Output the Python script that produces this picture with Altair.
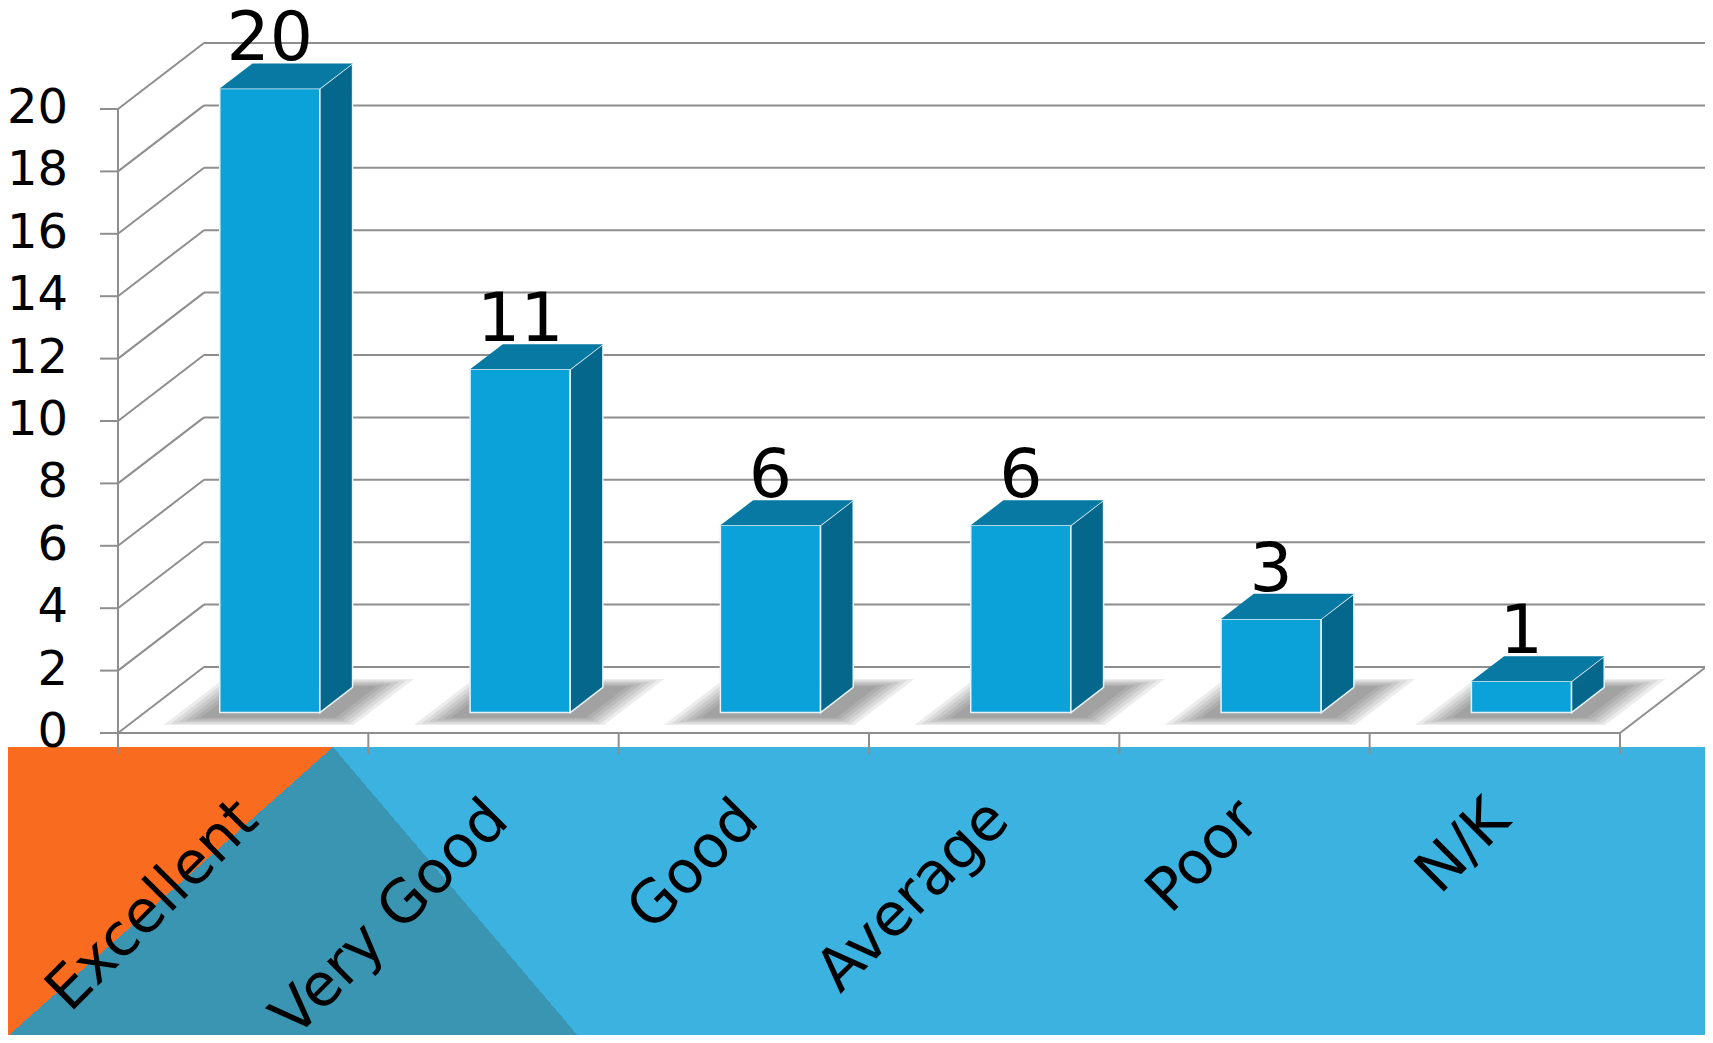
import altair as alt
import pandas as pd

# ---------------- data ----------------
categories = ["Excellent", "Very Good", "Good", "Average", "Poor", "N/K"]
values = [20, 11, 6, 6, 3, 1]
y_ticks = [0, 2, 4, 6, 8, 10, 12, 14, 16, 18, 20]

# ---------------- layout / style constants ----------------
W, H = 1697, 1027
PX_PER_CAT = 250.33
PX_PER_UNIT = 31.2
X_ORIGIN_PX = 110
Y_ORIGIN_PX = 725

xmin = -X_ORIGIN_PX / PX_PER_CAT
ymax = Y_ORIGIN_PX / PX_PER_UNIT
xs = alt.Scale(domain=[xmin, xmin + W / PX_PER_CAT], zero=False, nice=False, padding=0)
ys = alt.Scale(domain=[ymax - H / PX_PER_UNIT, ymax], zero=False, nice=False, padding=0)

DX, DY = 86 / PX_PER_CAT, 66 / PX_PER_UNIT   # depth vector of the 3-D box
D0, D1 = 0.31, 0.69                          # bar depth span
B0, B1 = 0.30, 0.70                          # bar span inside its category
N = len(categories)
TOP = max(y_ticks)
YTICK_LEN = 18 / PX_PER_CAT
XTICK_LEN = 21 / PX_PER_UNIT

FONT = "DejaVu Sans"
GRID = "#8e8e8e"
ORANGE, TEAL, BLUE = "#F96B1E", "#3A95B3", "#3BB2DF"
FRONT, SIDE, TOPC = "#0AA2D8", "#05678C", "#0779A2"

# ---------------- derived tables ----------------
bars = pd.DataFrame({"cat": categories, "value": values, "i": range(N)})
bars["fx0"] = bars.i + B0 + D0 * DX
bars["fx1"] = bars.i + B1 + D0 * DX
bars["fy0"] = D0 * DY
bars["fy1"] = bars.value + D0 * DY
bars["cx"] = bars.i + (B0 + B1) / 2 + D0 * DX
bars["ly"] = bars.value + D1 * DY
bars["lx"] = bars.i + 0.5 + 0.07

side_rows, top_rows = [], []
for c, v, i in zip(categories, values, range(N)):
    for d in (D0, D1):
        side_rows.append({"cat": c, "x": i + B1 + d * DX, "ylo": d * DY, "yhi": v + d * DY})
        top_rows.append({"cat": c, "y": v + d * DY, "xl": i + B0 + d * DX, "xr": i + B1 + d * DX})
side = pd.DataFrame(side_rows)
top = pd.DataFrame(top_rows)

# soft floor shadow: nested footprints, each faint
sh_rows = []
for k in range(6):
    e = 0.022 * k
    a, b, da, db = 0.25 - e, 0.79 + e, 0.23 - e, 0.71 + e
    for c, i in zip(categories, range(N)):
        for d in (da, db):
            sh_rows.append({"g": f"{c}-{k}", "y": d * DY, "xl": i + a + d * DX, "xr": i + b + d * DX})
shadow = pd.DataFrame(sh_rows)

grid = pd.DataFrame({"v": y_ticks})
grid["bx0"] = DX
grid["bx1"] = N + DX
grid["by"] = grid.v + DY
grid["zero"] = 0.0
grid["tk"] = -YTICK_LEN

xt = pd.DataFrame({"x": list(range(N + 1))})
xt["y0"] = 0.0
xt["y1"] = -XTICK_LEN

frame = pd.DataFrame({
    "x": [0, 0, N], "y": [0, 0, 0],
    "x2": [0, N, N + DX], "y2": [TOP, 0, DY],
})

one = pd.DataFrame({"a": [0]})

# ---------------- background decoration ----------------
bg_base = alt.Chart(one).mark_rect(fill=BLUE).encode(
    x=alt.value(-8), x2=alt.value(W + 10), y=alt.value(739), y2=alt.value(H + 10))

bg_orange = alt.Chart(one).mark_rect(
    fill=alt.LinearGradient(
        gradient="linear", x1=0, y1=0, x2=1, y2=1,
        stops=[alt.GradientStop(color=ORANGE, offset=0), alt.GradientStop(color=ORANGE, offset=0.5),
               alt.GradientStop(color=TEAL, offset=0.5), alt.GradientStop(color=TEAL, offset=1)])
).encode(x=alt.value(-8), x2=alt.value(325), y=alt.value(739), y2=alt.value(1035))

bg_teal = alt.Chart(one).mark_rect(
    fill=alt.LinearGradient(
        gradient="linear", x1=1, y1=0, x2=0, y2=1,
        stops=[alt.GradientStop(color=BLUE, offset=0), alt.GradientStop(color=BLUE, offset=0.5),
               alt.GradientStop(color=TEAL, offset=0.5), alt.GradientStop(color=TEAL, offset=1)])
).encode(x=alt.value(325), x2=alt.value(576), y=alt.value(739), y2=alt.value(1035))

# ---------------- walls, floor, ticks ----------------
back_wall = alt.Chart(grid).mark_rule(color=GRID, strokeWidth=2).encode(
    x=alt.X("bx0:Q", scale=xs, axis=None), x2="bx1:Q",
    y=alt.Y("by:Q", scale=ys, axis=None))

left_wall = alt.Chart(grid).mark_rule(color=GRID, strokeWidth=2).encode(
    x=alt.X("zero:Q", scale=xs, axis=None), x2="bx0:Q",
    y=alt.Y("v:Q", scale=ys, axis=None), y2="by:Q")

frame_lines = alt.Chart(frame).mark_rule(color=GRID, strokeWidth=2).encode(
    x=alt.X("x:Q", scale=xs, axis=None), x2="x2:Q",
    y=alt.Y("y:Q", scale=ys, axis=None), y2="y2:Q")

y_tick_marks = alt.Chart(grid).mark_rule(color=GRID, strokeWidth=2).encode(
    x=alt.X("tk:Q", scale=xs, axis=None), x2="zero:Q",
    y=alt.Y("v:Q", scale=ys, axis=None))

y_tick_labels = alt.Chart(grid).mark_text(
    font=FONT, fontSize=48, color="black", align="right", baseline="middle", dx=-50).encode(
    x=alt.X("zero:Q", scale=xs, axis=None), y=alt.Y("v:Q", scale=ys, axis=None), text="v:Q")

x_tick_marks = alt.Chart(xt).mark_rule(color=GRID, strokeWidth=2).encode(
    x=alt.X("x:Q", scale=xs, axis=None),
    y=alt.Y("y0:Q", scale=ys, axis=None), y2="y1:Q")

# ---------------- bars ----------------
shadows = alt.Chart(shadow).mark_area(orient="horizontal", color="#303030", opacity=0.09).encode(
    y=alt.Y("y:Q", scale=ys, axis=None, stack=None),
    x=alt.X("xl:Q", scale=xs, axis=None), x2="xr:Q",
    detail="g:N")

fronts = alt.Chart(bars).mark_rect(fill=FRONT, stroke="#e6f4fa", strokeWidth=1.5).encode(
    x=alt.X("fx0:Q", scale=xs, axis=None), x2="fx1:Q",
    y=alt.Y("fy0:Q", scale=ys, axis=None), y2="fy1:Q")

sides = alt.Chart(side).mark_area(orient="vertical", fill=SIDE, stroke="#e6f4fa", strokeWidth=1.5).encode(
    x=alt.X("x:Q", scale=xs, axis=None, stack=None),
    y=alt.Y("ylo:Q", scale=ys, axis=None, stack=None), y2="yhi:Q",
    detail="cat:N")

tops = alt.Chart(top).mark_area(orient="horizontal", fill=TOPC).encode(
    y=alt.Y("y:Q", scale=ys, axis=None, stack=None),
    x=alt.X("xl:Q", scale=xs, axis=None), x2="xr:Q",
    detail="cat:N")

value_labels = alt.Chart(bars).mark_text(
    font=FONT, fontSize=68, color="black", align="center", baseline="alphabetic", dy=-3).encode(
    x=alt.X("cx:Q", scale=xs, axis=None), y=alt.Y("ly:Q", scale=ys, axis=None), text="value:Q")

cat_labels = alt.Chart(bars).mark_text(
    font=FONT, fontSize=59, color="black", align="right", baseline="alphabetic", angle=315).encode(
    x=alt.X("lx:Q", scale=xs, axis=None), y=alt.value(815), text="cat:N")

chart = alt.layer(
    bg_base, bg_orange, bg_teal,
    back_wall, left_wall, frame_lines,
    shadows, fronts, sides, tops,
    y_tick_marks, x_tick_marks, y_tick_labels,
    value_labels, cat_labels,
).properties(
    width=W, height=H, padding=0, autosize=alt.AutoSizeParams(type="none"), background="white"
).configure_view(stroke=None)

chart.save("out.html", embed_options={"renderer": "svg", "actions": False})
